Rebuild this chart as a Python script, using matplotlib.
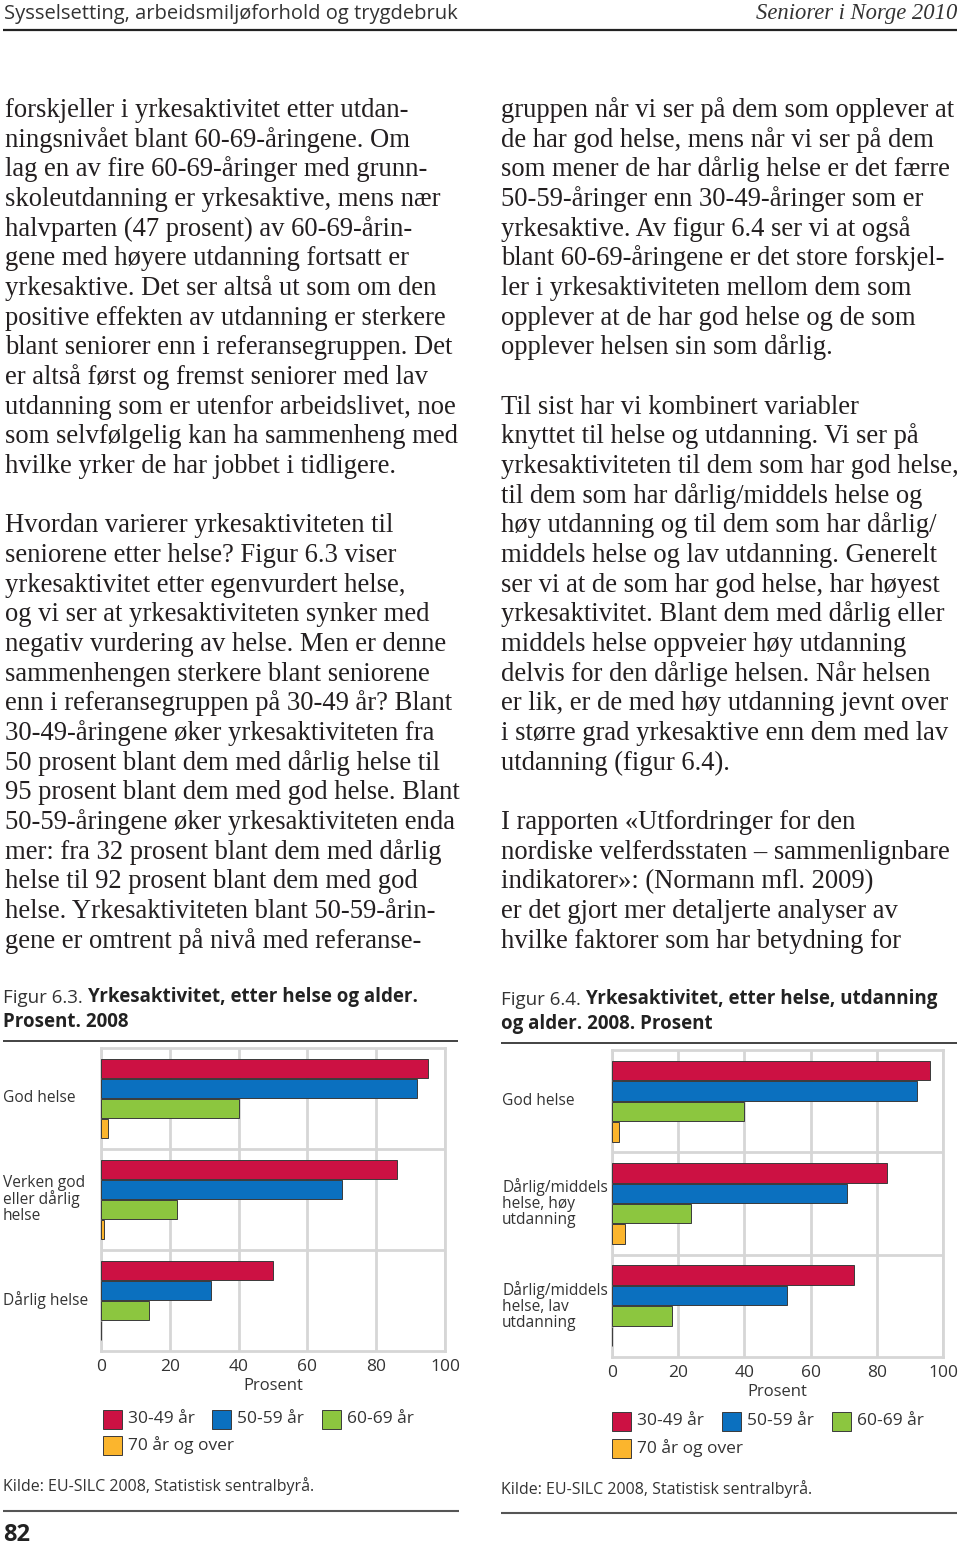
#!/usr/bin/env python3
"""
Page from 'Seniorer i Norge 2010': text columns and figures 6.3 / 6.4
"""

import matplotlib
matplotlib.use('Agg')  # Use non-interactive backend
import matplotlib.pyplot as plt
from matplotlib.patches import Rectangle
import numpy as np

W, H = 960, 1545  # page size in pixels

# Series shared by both figures
age_groups = ['30-49 år', '50-59 år', '60-69 år', '70 år og over']
age_colors = ['#cc1143', '#0b70bf', '#8cc63f', '#fbb52d']

# Figur 6.3 - yrkesaktivitet etter helse og alder (prosent)
fig63_categories = ['God helse', 'Verken god\neller dårlig\nhelse', 'Dårlig helse']
fig63_age_30_49 = [95, 86, 50]
fig63_age_50_59 = [92, 70, 32]
fig63_age_60_69 = [40, 22, 14]
fig63_age_70_plus = [2, 1, 0]

# Figur 6.4 - yrkesaktivitet etter helse, utdanning og alder (prosent)
fig64_categories = ['God helse', 'Dårlig/middels\nhelse, høy\nutdanning',
                    'Dårlig/middels\nhelse, lav\nutdanning']
fig64_age_30_49 = [96, 83, 73]
fig64_age_50_59 = [92, 71, 53]
fig64_age_60_69 = [40, 24, 18]
fig64_age_70_plus = [2, 4, 0]

x_ticks = [0, 20, 40, 60, 80, 100]

left_column = [
    "forskjeller i yrkesaktivitet etter utdan-",
    "ningsnivået blant 60-69-åringene. Om",
    "lag en av fire 60-69-åringer med grunn-",
    "skoleutdanning er yrkesaktive, mens nær",
    "halvparten (47 prosent) av 60-69-årin-",
    "gene med høyere utdanning fortsatt er",
    "yrkesaktive. Det ser altså ut som om den",
    "positive effekten av utdanning er sterkere",
    "blant seniorer enn i referansegruppen. Det",
    "er altså først og fremst seniorer med lav",
    "utdanning som er utenfor arbeidslivet, noe",
    "som selvfølgelig kan ha sammenheng med",
    "hvilke yrker de har jobbet i tidligere.",
    "",
    "Hvordan varierer yrkesaktiviteten til",
    "seniorene etter helse? Figur 6.3 viser",
    "yrkesaktivitet etter egenvurdert helse,",
    "og vi ser at yrkesaktiviteten synker med",
    "negativ vurdering av helse. Men er denne",
    "sammenhengen sterkere blant seniorene",
    "enn i referansegruppen på 30-49 år? Blant",
    "30-49-åringene øker yrkesaktiviteten fra",
    "50 prosent blant dem med dårlig helse til",
    "95 prosent blant dem med god helse. Blant",
    "50-59-åringene øker yrkesaktiviteten enda",
    "mer: fra 32 prosent blant dem med dårlig",
    "helse til 92 prosent blant dem med god",
    "helse. Yrkesaktiviteten blant 50-59-årin-",
    "gene er omtrent på nivå med referanse-",
]

right_column = [
    "gruppen når vi ser på dem som opplever at",
    "de har god helse, mens når vi ser på dem",
    "som mener de har dårlig helse er det færre",
    "50-59-åringer enn 30-49-åringer som er",
    "yrkesaktive. Av figur 6.4 ser vi at også",
    "blant 60-69-åringene er det store forskjel-",
    "ler i yrkesaktiviteten mellom dem som",
    "opplever at de har god helse og de som",
    "opplever helsen sin som dårlig.",
    "",
    "Til sist har vi kombinert variabler",
    "knyttet til helse og utdanning. Vi ser på",
    "yrkesaktiviteten til dem som har god helse,",
    "til dem som har dårlig/middels helse og",
    "høy utdanning og til dem som har dårlig/",
    "middels helse og lav utdanning. Generelt",
    "ser vi at de som har god helse, har høyest",
    "yrkesaktivitet. Blant dem med dårlig eller",
    "middels helse oppveier høy utdanning",
    "delvis for den dårlige helsen. Når helsen",
    "er lik, er de med høy utdanning jevnt over",
    "i større grad yrkesaktive enn dem med lav",
    "utdanning (figur 6.4).",
    "",
    "I rapporten «Utfordringer for den",
    "nordiske velferdsstaten – sammenlignbare",
    "indikatorer»: (Normann mfl. 2009)",
    "er det gjort mer detaljerte analyser av",
    "hvilke faktorer som har betydning for",
]

SERIF = ['Liberation Serif', 'DejaVu Serif']
SANS = ['Open Sans', 'DejaVu Sans']
TEXT_COLOR = '#231f20'
LABEL_COLOR = '#333333'
GRID_COLOR = '#d6d6d6'

fig = plt.figure(figsize=(W / 100, H / 100), dpi=100)
page = fig.add_axes([0, 0, 1, 1])
page.set_xlim(0, W)
page.set_ylim(H, 0)
page.axis('off')
renderer = fig.canvas.get_renderer()


def fitted_size(text, target_px, **kw):
    """Font size (pt) that makes text span target_px"""
    t = page.text(0, 0, text, fontsize=10, **kw)
    w = t.get_window_extent(renderer).width
    t.remove()
    return 10 * target_px / w


def hline(x0, x1, y, lw, color):
    page.plot([x0, x1], [y, y], color=color, lw=lw, solid_capstyle='butt')


# Running header
hsize = fitted_size('Sysselsetting, arbeidsmiljøforhold og trygdebruk', 453, family=SANS)
page.text(4, 19, 'Sysselsetting, arbeidsmiljøforhold og trygdebruk', family=SANS,
          fontsize=hsize, color=LABEL_COLOR, va='baseline')
rsize = fitted_size('Seniorer i Norge 2010', 202, family=SERIF, style='italic')
page.text(957, 19, 'Seniorer i Norge 2010', family=SERIF, style='italic',
          fontsize=rsize, color=LABEL_COLOR, va='baseline', ha='right')
hline(3, 957, 30, 1.6, '#222222')

# Body text
body_size = fitted_size('utdanning som er utenfor arbeidslivet, noe', 450, family=SERIF)
line_step = 29.67
for i, line in enumerate(left_column):
    page.text(5, 117 + i * line_step, line, family=SERIF, fontsize=body_size,
              color=TEXT_COLOR, va='baseline')
for i, line in enumerate(right_column):
    page.text(501, 117 + i * line_step, line, family=SERIF, fontsize=body_size,
              color=TEXT_COLOR, va='baseline')


def figure_title(x, y, number, first, second, x_end):
    t1 = page.text(x, y, number, family=SANS, fontsize=13.5, color=LABEL_COLOR,
                   va='baseline')
    page.annotate(first, xy=(1, 0), xycoords=t1, va='bottom', ha='left',
                  family=SANS, fontsize=13.5, fontweight='bold', color='#222222')
    page.text(x, y + 24, second, family=SANS, fontsize=13.5, fontweight='bold',
              color='#222222', va='baseline')
    hline(x, x_end, y + 38, 1.2, '#222222')


def bar_chart(box, categories, series, label_px):
    x0, x1, y0, y1 = box
    ax = fig.add_axes([x0 / W, 1 - y1 / H, (x1 - x0) / W, (y1 - y0) / H])
    pos = np.arange(len(categories))
    for k, (vals, color) in enumerate(zip(series, age_colors)):
        ax.barh(pos - 0.3 + 0.2 * k, vals, height=0.19, color=color,
                edgecolor='#3a3a3a', linewidth=0.7, zorder=3)
    ax.set_xlim(0, 100)
    ax.set_ylim(len(categories) - 0.5, -0.5)
    ax.set_xticks(x_ticks)
    ax.set_yticks([])
    ax.grid(axis='x', color=GRID_COLOR, lw=2)
    for sep in pos[:-1] + 0.5:
        ax.axhline(sep, color=GRID_COLOR, lw=2, zorder=1)
    ax.set_axisbelow(True)
    for side in ax.spines.values():
        side.set_color(GRID_COLOR)
        side.set_linewidth(2)
    ax.tick_params(axis='x', length=0, pad=6, labelsize=12.5, labelcolor=LABEL_COLOR)
    for lab in ax.get_xticklabels():
        lab.set_family(SANS)
    ax.set_xlabel('Prosent', family=SANS, fontsize=12, color=LABEL_COLOR, labelpad=2)
    lx = (label_px - x0) / (x1 - x0)
    for p, cat in zip(pos, categories):
        ax.text(lx, p, cat, transform=ax.get_yaxis_transform(), ha='left',
                va='center', family=SANS, fontsize=11.2, color=LABEL_COLOR,
                linespacing=1.0)
    return ax


def legend_rows(squares, row_y):
    for (sx, row), label, color in zip(squares, age_groups, age_colors):
        cy = row_y[row]
        page.add_patch(Rectangle((sx, cy - 9.5), 19, 19, facecolor=color,
                                 edgecolor='#3a3a3a', lw=0.7))
        page.text(sx + 25, cy, label, family=SANS, fontsize=12.5,
                  color=LABEL_COLOR, va='center')


# Figur 6.3
figure_title(3, 1003, 'Figur 6.3. ', 'Yrkesaktivitet, etter helse og alder.',
             'Prosent. 2008', 458)
bar_chart((101, 445, 1048, 1351), fig63_categories,
          [fig63_age_30_49, fig63_age_50_59, fig63_age_60_69, fig63_age_70_plus], 3)
legend_rows([(103, 0), (212, 0), (322, 0), (103, 1)], (1419, 1445))
page.text(3, 1486, 'Kilde: EU-SILC 2008, Statistisk sentralbyrå.', family=SANS,
          fontsize=11.5, color=LABEL_COLOR, va='center')
hline(3, 459, 1511, 1.5, '#555555')
page.text(3, 1541, '82', family=SANS, fontsize=17, fontweight='bold',
          color='#222222', va='baseline')

# Figur 6.4
figure_title(501, 1005, 'Figur 6.4. ', 'Yrkesaktivitet, etter helse, utdanning',
             'og alder. 2008. Prosent', 957)
bar_chart((612, 943, 1050, 1357), fig64_categories,
          [fig64_age_30_49, fig64_age_50_59, fig64_age_60_69, fig64_age_70_plus], 502)
legend_rows([(612, 0), (722, 0), (832, 0), (612, 1)], (1421, 1448))
page.text(501, 1489, 'Kilde: EU-SILC 2008, Statistisk sentralbyrå.', family=SANS,
          fontsize=11.5, color=LABEL_COLOR, va='center')
hline(501, 957, 1513, 1.5, '#555555')

fig.savefig('out.png', dpi=100)
